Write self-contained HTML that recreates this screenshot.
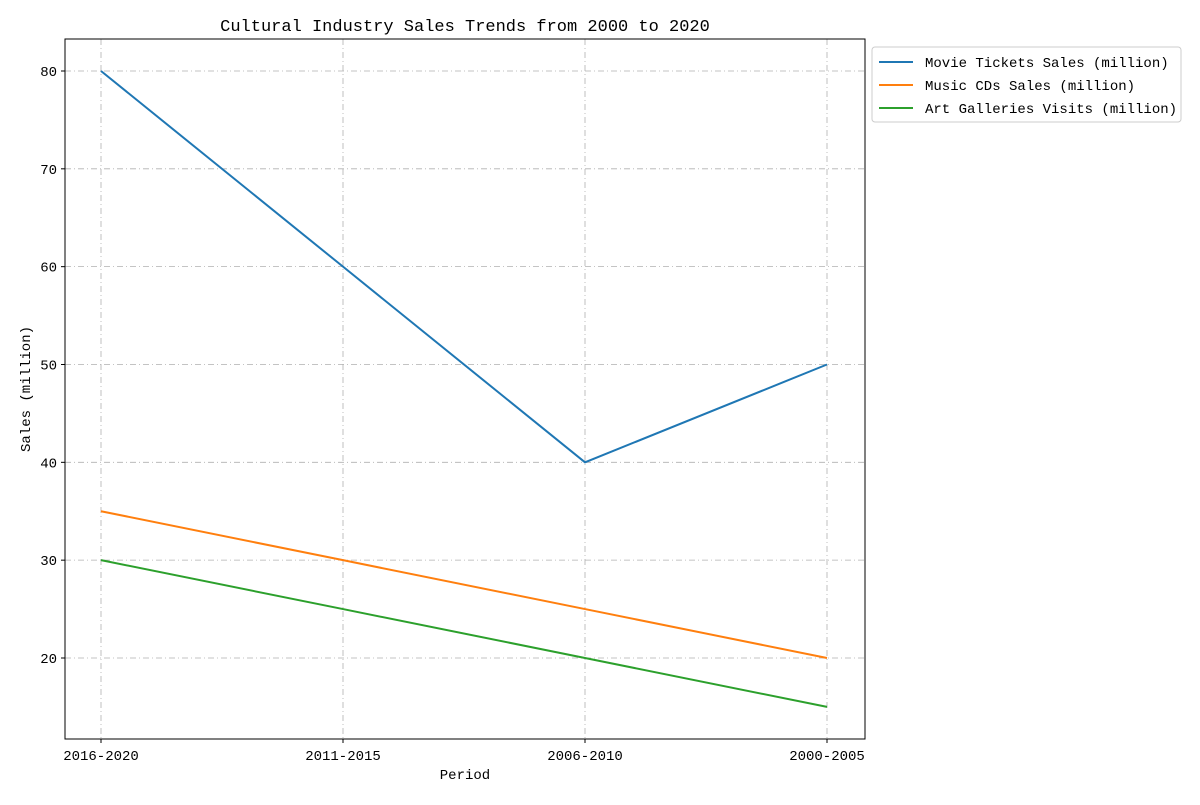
<!DOCTYPE html>
<html><head><meta charset="utf-8"><style>
body{margin:0;background:#fff;}
svg text{font-family:"WenQuanYi Zen Hei Mono","Liberation Mono","DejaVu Sans Mono",monospace;fill:#000;}
</style></head><body>
<svg id="chart" width="1200" height="800" xmlns="http://www.w3.org/2000/svg"></svg>
<script>
const categories=["2016-2020","2011-2015","2006-2010","2000-2005"];
const movieTickets=[80,60,40,50];
const musicCDs=[35,30,25,20];
const artVisits=[30,25,20,15];
const yTicks=[20,30,40,50,60,70,80];
const seriesNames=["Movie Tickets Sales (million)","Music CDs Sales (million)","Art Galleries Visits (million)"];
const colors=["#1f77b4","#ff7f0e","#2ca02c"];
const svg=document.getElementById('chart');
const NS="http://www.w3.org/2000/svg";
const L=65,R=865,T=39,B=739;
const x=i=>101+i*(827-101)/(categories.length-1);
const yMin=11.72,yMax=83.27;
const y=v=>B-(v-yMin)/(yMax-yMin)*(B-T);
function mk(tag,attrs,parent){const e=document.createElementNS(NS,tag);for(const k in attrs)e.setAttribute(k,attrs[k]);(parent||svg).appendChild(e);return e;}
const grid=mk('g',{});


categories.forEach((c,i)=>{
  mk('line',{x1:x(i),x2:x(i),y1:T,y2:B,stroke:'#b0b0b0','stroke-dasharray':'6,3,1,3','stroke-width':0.8},grid);
  mk('line',{x1:x(i),x2:x(i),y1:B,y2:B+4,stroke:'#000'},grid);
  const t=mk('text',{x:x(i),y:B+21,'text-anchor':'middle','font-size':14});
  
  
  t.textContent=c;
});
yTicks.forEach(v=>{
  mk('line',{x1:L,x2:R,y1:y(v),y2:y(v),stroke:'#b0b0b0','stroke-dasharray':'6,3,1,3','stroke-width':0.8},grid);
  mk('line',{x1:L-4,x2:L,y1:y(v),y2:y(v),stroke:'#000'},grid);
  const t=mk('text',{x:L-8,y:y(v)+5,'text-anchor':'end','font-size':14});
  
  
  t.textContent=v;
});
[movieTickets,musicCDs,artVisits].forEach((s,k)=>{
  const p=mk('polyline',{points:s.map((v,i)=>x(i)+','+y(v)).join(' '),fill:'none',stroke:colors[k],'stroke-width':2});
  
  
});
const frame=mk('rect',{x:L,y:T,width:R-L,height:B-T,fill:'none',stroke:'#000','stroke-width':1});


const title=mk('text',{x:465,y:31,'text-anchor':'middle','font-size':17});


title.textContent="Cultural Industry Sales Trends from 2000 to 2020";
const xt=mk('text',{x:465,y:779,'text-anchor':'middle','font-size':14});


xt.textContent="Period";
const yt=mk('text',{x:0,y:0,'text-anchor':'middle','font-size':14,transform:'translate(30,389) rotate(-90)'});


yt.textContent="Sales (million)";
const lg=mk('g',{});


mk('rect',{x:872,y:47,width:309,height:75,rx:3,fill:'#fff',stroke:'#ccc'},lg);
seriesNames.forEach((n,k)=>{
  const yy=62+k*23;
  mk('line',{x1:879,x2:913,y1:yy,y2:yy,stroke:colors[k],'stroke-width':2},lg);
  const t=mk('text',{x:925,y:yy+5,'font-size':14},lg);
  
  
  t.textContent=n;
});
</script>
</body></html>
